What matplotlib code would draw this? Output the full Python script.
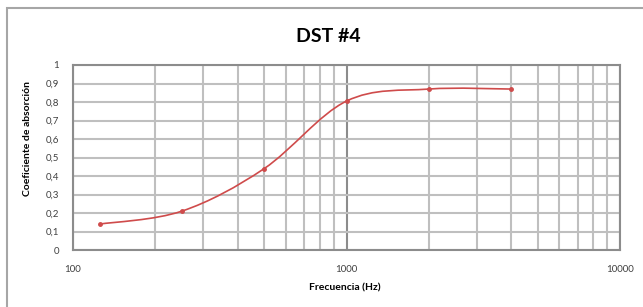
import numpy as np
import matplotlib.pyplot as plt
from matplotlib.path import Path
from matplotlib.patches import PathPatch, Rectangle
from matplotlib.ticker import FixedLocator, LogLocator, NullFormatter

# Datos
frecuencias = [125, 250, 500, 1000, 2000, 4000]
coeficientes = [0.14, 0.21, 0.44, 0.805, 0.87, 0.87]
y_ticks = [0, 0.1, 0.2, 0.3, 0.4, 0.5, 0.6, 0.7, 0.8, 0.9, 1]
x_ticks = [100, 1000, 10000]

plt.rcParams['font.family'] = ['Lato', 'DejaVu Sans']

fig = plt.figure(figsize=(6.43, 3.07), dpi=100)
W, H = 643, 307
ax = fig.add_axes([73 / W, 1 - 250 / H, (620 - 73) / W, (250 - 65) / H])

# borde del grafico (estilo Excel)
fig.patches.append(Rectangle((7 / W, -0.1), 1.2, 1 - 8 / H + 0.1, transform=fig.transFigure,
                             fill=False, edgecolor='#a6a6a6', linewidth=1.5))

ax.set_xscale('log')
ax.set_xlim(100, 10000)
ax.set_ylim(0, 1)

# linea suavizada (Bezier tipo Catmull-Rom en espacio log)
lx = np.log10(frecuencias)
ly = np.array(coeficientes)
verts = [(lx[0], ly[0])]
codes = [Path.MOVETO]
n = len(lx)
for i in range(n - 1):
    p0 = (lx[max(i - 1, 0)], ly[max(i - 1, 0)])
    p1 = (lx[i], ly[i])
    p2 = (lx[i + 1], ly[i + 1])
    p3 = (lx[min(i + 2, n - 1)], ly[min(i + 2, n - 1)])
    c1 = (p1[0] + (p2[0] - p0[0]) / 6, p1[1] + (p2[1] - p0[1]) / 6)
    c2 = (p2[0] - (p3[0] - p1[0]) / 6, p2[1] - (p3[1] - p1[1]) / 6)
    verts += [c1, c2, p2]
    codes += [Path.CURVE4] * 3
verts = [(10 ** vx, vy) for vx, vy in verts]
ax.add_patch(PathPatch(Path(verts, codes), fill=False, edgecolor='#cf4b4b', linewidth=1.2, zorder=3))
ax.plot(frecuencias, coeficientes, 'o', color='#cf4b4b', markersize=2.5, zorder=4)

# rejilla
ax.yaxis.set_major_locator(FixedLocator(y_ticks))
ax.xaxis.set_major_locator(FixedLocator(x_ticks))
ax.xaxis.set_minor_locator(LogLocator(base=10, subs=np.arange(2, 10)))
ax.xaxis.set_minor_formatter(NullFormatter())
ax.grid(True, which='major', axis='y', color='#bfbfbf', linewidth=1.5)
ax.grid(True, which='major', axis='x', color='#8c8c8c', linewidth=1.5)
ax.grid(True, which='minor', axis='x', color='#bfbfbf', linewidth=1.5)
ax.tick_params(which='both', length=0)
ax.set_yticklabels([('%g' % v).replace('.', ',') for v in y_ticks], fontsize=7, color='#404040')
ax.set_xticklabels([str(v) for v in x_ticks], fontsize=7, color='#404040')
ax.tick_params(axis='y', pad=10)
ax.tick_params(axis='x', pad=11)
for s in ax.spines.values():
    s.set_color('#8c8c8c')
    s.set_linewidth(1.5)

fig.text(328 / W, 1 - 36 / H, 'DST #4', ha='center', va='center', fontsize=14, fontweight='bold')
fig.text(345 / W, 1 - 288 / H, 'Frecuencia (Hz)', ha='center', va='center', fontsize=7.5, fontweight='bold')
fig.text(28 / W, 1 - 138 / H, 'Coeficiente de absorción', ha='center', va='center', rotation=90,
         fontsize=7.5, fontweight='bold')

fig.savefig('out.png', dpi=100)
